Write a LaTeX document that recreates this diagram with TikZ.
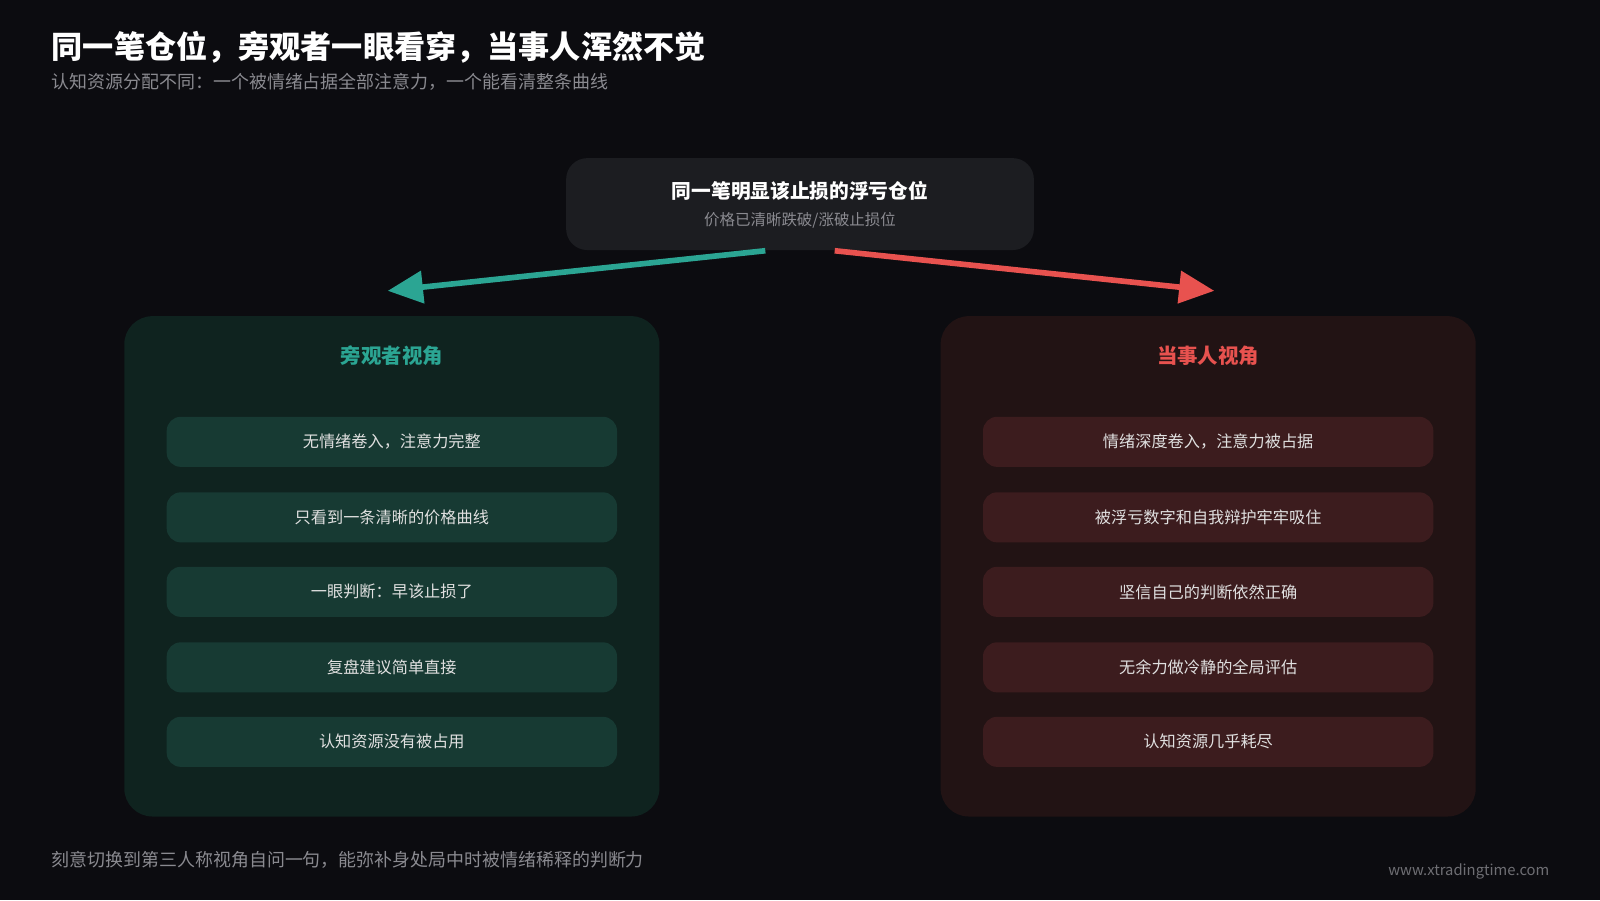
\documentclass[tikz,border=0pt]{standalone}
\usepackage{fontspec}
\setmainfont{Noto Sans CJK SC}
\usetikzlibrary{positioning,arrows.meta,calc}
\definecolor{bg}{HTML}{0C0C10}
\definecolor{topbox}{HTML}{1C1D21}
\definecolor{teal}{HTML}{2BA593}
\definecolor{redc}{HTML}{E8524F}
\definecolor{lpanel}{HTML}{0F231F}
\definecolor{litem}{HTML}{173A33}
\definecolor{rpanel}{HTML}{221314}
\definecolor{ritem}{HTML}{3C1C1E}
\definecolor{greytext}{HTML}{8A8A90}
\tikzset{
    panel/.style = {
        shape=rectangle,
        rounded corners=8pt,
        minimum width=5.345cm,
        minimum height=4.998cm
    },
    item/.style = {
        shape=rectangle,
        rounded corners=4pt,
        minimum width=4.498cm,
        minimum height=0.5cm,
        text=white!88!black,
        font=\fontsize{4.6}{5}\selectfont
    },
    >={Triangle[length=10pt,width=9pt]},
}
\begin{document}
\begin{tikzpicture}[x=0.0102cm,y=-0.0102cm]
    \fill[bg] (0,0) rectangle (1568,882);
    \node[anchor=west, inner sep=0pt, text=white, font=\bfseries\fontsize{8.85}{9}\selectfont] (title) at (50,46) {同一笔仓位，旁观者一眼看穿，当事人浑然不觉};
    \node[anchor=west, inner sep=0pt, text=greytext, font=\fontsize{5.1}{6}\selectfont] (subtitle) at (50,80) {认知资源分配不同：一个被情绪占据全部注意力，一个能看清整条曲线};

    \node[shape=rectangle, rounded corners=6pt, fill=topbox, minimum width=4.672cm, minimum height=0.918cm] (top) at (784,200) {};
    \node[text=white, font=\bfseries\fontsize{5.6}{6}\selectfont] (toptitle) at (784,187) {同一笔明显该止损的浮亏仓位};
    \node[text=greytext, font=\fontsize{4.4}{5}\selectfont] (topsub) at (784,216) {价格已清晰跌破/涨破止损位};

    \node[panel, fill=lpanel] (left) at (384,555) {};
    \node[panel, fill=rpanel] (right) at (1184,555) {};
    \node[text=teal, font=\bfseries\fontsize{5.8}{6}\selectfont] (ltitle) at (384,349) {旁观者视角};
    \node[text=redc, font=\bfseries\fontsize{5.8}{6}\selectfont] (rtitle) at (1184,349) {当事人视角};

    \node[item, fill=litem] (l1) at (384,433) {无情绪卷入，注意力完整};
    \node[item, fill=litem] (l2) at (384,507) {只看到一条清晰的价格曲线};
    \node[item, fill=litem] (l3) at (384,580) {一眼判断：早该止损了};
    \node[item, fill=litem] (l4) at (384,654) {复盘建议简单直接};
    \node[item, fill=litem] (l5) at (384,727) {认知资源没有被占用};

    \node[item, fill=ritem] (r1) at (1184,433) {情绪深度卷入，注意力被占据};
    \node[item, fill=ritem] (r2) at (1184,507) {被浮亏数字和自我辩护牢牢吸住};
    \node[item, fill=ritem] (r3) at (1184,580) {坚信自己的判断依然正确};
    \node[item, fill=ritem] (r4) at (1184,654) {无余力做冷静的全局评估};
    \node[item, fill=ritem] (r5) at (1184,727) {认知资源几乎耗尽};

    \coordinate (lstart) at ($(top.south)+(-34,0)$);
    \coordinate (rstart) at ($(top.south)+(34,0)$);
    \coordinate (lend) at (380,285);
    \coordinate (rend) at (1190,285);
    \path[draw, ->, teal, line width=1.6pt] (lstart) -- (lend);
    \path[draw, ->, redc, line width=1.6pt] (rstart) -- (rend);

    \node[anchor=west, inner sep=0pt, text=greytext, font=\fontsize{5.1}{6}\selectfont] (footer) at (50,843) {刻意切换到第三人称视角自问一句，能弥补身处局中时被情绪稀释的判断力};
    \node[anchor=east, inner sep=0pt, text=greytext!80!black, font=\fontsize{4.2}{5}\selectfont] (url) at (1519,854) {www.xtradingtime.com};
\end{tikzpicture}
\end{document}
